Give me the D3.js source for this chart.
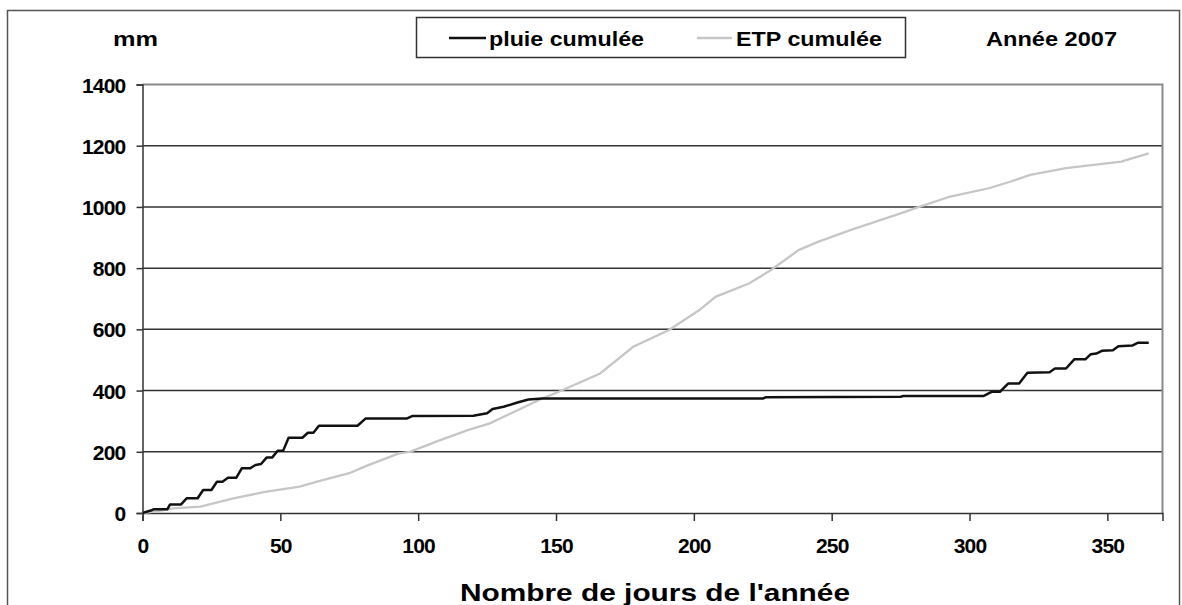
<!DOCTYPE html>
<html>
<head>
<meta charset="utf-8">
<script src="https://cdn.jsdelivr.net/npm/d3@7"></script>
<style>
  body { margin: 0; background: #fff; }
  text { font-family: "Liberation Sans", Arial, sans-serif; font-weight: bold; fill: #000; }
</style>
</head>
<body>
<div id="chart"></div>
<script>
// data: day of year, cumulated mm
const rainDays = [0, 3, 4, 9, 10, 14, 16, 20, 22, 25, 27, 29, 31, 34, 36, 39, 41, 43, 45, 47, 49, 51, 53, 58, 60, 62, 64, 78, 81, 96, 98, 120, 125, 127, 131, 136, 140, 145, 225, 226, 275, 276, 305, 308, 311, 314, 318, 321, 329, 331, 335, 338, 342, 344, 346, 348, 352, 354, 359, 361, 365];
const rainMm = [0, 8, 12, 12, 28, 28, 48, 48, 75, 75, 102, 102, 115, 115, 146, 146, 157, 160, 181, 181, 203, 203, 246, 246, 262, 262, 285, 285, 309, 309, 317, 318, 326, 340, 347, 361, 371, 374, 374, 378, 380, 382, 382, 396, 396, 423, 423, 458, 460, 472, 472, 502, 502, 519, 521, 530, 532, 545, 547, 556, 556];

const etpDays = [0, 5, 11, 21, 33, 45, 57, 63, 75, 81, 93, 97, 108, 118, 126, 145, 151, 166, 178, 191, 202, 208, 220, 228, 238, 245, 257, 275, 282, 293, 307, 315, 322, 335, 355, 365];
const etpMm = [0, 5, 15, 21, 48, 70, 86, 102, 130, 153, 195, 200, 238, 271, 293, 374, 396, 456, 543, 598, 663, 707, 750, 794, 859, 886, 925, 979, 1001, 1034, 1061, 1083, 1105, 1127, 1148, 1175];

const xTicks = [0, 50, 100, 150, 200, 250, 300, 350];
const yTicks = [0, 200, 400, 600, 800, 1000, 1200, 1400];

const seriesNames = ["pluie cumulée", "ETP cumulée"];
const seriesColors = ["#111111", "#c6c6c6"];

// step 1 svg and frame
const W = 1182, H = 605;
const svg = d3.select("#chart").append("svg")
  .attr("width", W).attr("height", H);

svg.append("rect")
  .attr("x", 7.5).attr("y", 10.5)
  .attr("width", 1172).attr("height", 620)
  .attr("fill", "#fff")
  .attr("stroke", "#555").attr("stroke-width", 1.5);

const plot = { left: 142.5, right: 1162.5, top: 84.5, bottom: 513 };

// step 2 scales
const xScale = d3.scaleLinear().domain([0, 370]).range([plot.left, plot.right]);
const yScale = d3.scaleLinear().domain([0, 1400]).range([plot.bottom, plot.top]);

// step 3 grid + plot border
svg.append("g")
  .selectAll("line")
  .data(yTicks.filter(d => d > 0 && d < 1400))
  .enter().append("line")
  .attr("x1", plot.left).attr("x2", plot.right)
  .attr("y1", d => yScale(d)).attr("y2", d => yScale(d))
  .attr("stroke", "#333").attr("stroke-width", 1.5);

svg.append("path")
  .attr("d", `M${plot.left},${plot.top}H${plot.right}V${plot.bottom}`)
  .attr("fill", "none").attr("stroke", "#8a8a8a").attr("stroke-width", 2);

// step 4 axes
const yAxis = svg.append("g")
  .attr("transform", `translate(${plot.left},0)`)
  .call(d3.axisLeft(yScale).tickValues(yTicks).tickSize(6).tickPadding(11).tickFormat(d3.format("d")));

const xAxis = svg.append("g")
  .attr("transform", `translate(0,${plot.bottom})`)
  .call(d3.axisBottom(xScale).tickValues(xTicks).tickSize(8).tickPadding(17).tickFormat(d3.format("d")));

[xAxis, yAxis].forEach(a => {
  a.select(".domain").attr("stroke", "#333").attr("stroke-width", 1.5);
  a.selectAll(".tick line").attr("stroke", "#333").attr("stroke-width", 1.5);
  a.selectAll(".tick text")
    .style("font-family", "'Liberation Sans', Arial, sans-serif")
    .style("font-weight", "bold")
    .style("font-size", "21px")
    .style("letter-spacing", "-0.8px")
    .attr("fill", "#000");
});
yAxis.selectAll(".tick text").attr("dy", "0.36em");

// step 5 lines
const line = d3.line()
  .x(d => xScale(d[0]))
  .y(d => yScale(d[1]));

const etpData = etpDays.map((d, i) => [d, etpMm[i]]);
const rainData = rainDays.map((d, i) => [d, rainMm[i]]);

svg.append("path")
  .datum(etpData)
  .attr("fill", "none")
  .attr("stroke", seriesColors[1])
  .attr("stroke-width", 2.3)
  .attr("d", line);

svg.append("path")
  .datum(rainData)
  .attr("fill", "none")
  .attr("stroke", seriesColors[0])
  .attr("stroke-width", 2.5)
  .attr("stroke-linejoin", "round")
  .attr("d", line);

// step 6 legend and labels
svg.append("rect")
  .attr("x", 416.5).attr("y", 17.5)
  .attr("width", 489).attr("height", 40)
  .attr("fill", "#fff")
  .attr("stroke", "#333").attr("stroke-width", 1.5);

const legendX = [[449, 486, 489, 155], [697, 732, 736, 146]];
seriesNames.forEach((name, i) => {
  svg.append("line")
    .attr("x1", legendX[i][0]).attr("x2", legendX[i][1])
    .attr("y1", 38).attr("y2", 38)
    .attr("stroke", seriesColors[i]).attr("stroke-width", 2.5);
  svg.append("text")
    .attr("x", legendX[i][2]).attr("y", 38).attr("dy", "0.36em")
    .attr("font-size", 21)
    .attr("textLength", legendX[i][3]).attr("lengthAdjust", "spacingAndGlyphs")
    .text(name);
});

svg.append("text")
  .attr("x", 113).attr("y", 38).attr("dy", "0.36em")
  .attr("font-size", 21)
  .attr("textLength", 45).attr("lengthAdjust", "spacingAndGlyphs")
  .text("mm");

svg.append("text")
  .attr("x", 986).attr("y", 38).attr("dy", "0.36em")
  .attr("font-size", 21)
  .attr("textLength", 131).attr("lengthAdjust", "spacingAndGlyphs")
  .text("Année 2007");

svg.append("text")
  .attr("x", 655).attr("y", 592).attr("dy", "0.36em")
  .attr("text-anchor", "middle")
  .attr("font-size", 24)
  .attr("textLength", 390).attr("lengthAdjust", "spacingAndGlyphs")
  .text("Nombre de jours de l'année");
</script>
</body>
</html>
